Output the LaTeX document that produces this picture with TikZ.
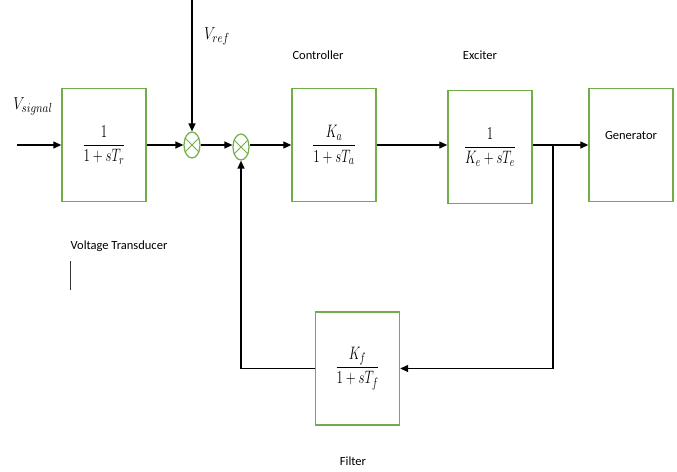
\documentclass[tikz,border=0pt]{standalone}
\usepackage{fontspec}
\usepackage{graphicx}
\setmainfont{Carlito}
\usetikzlibrary{arrows.meta,shapes.geometric}
\definecolor{boxgreen}{RGB}{112,173,71}
\newcommand{\tfrac}[2]{\scalebox{0.9}[1.25]{$\displaystyle\frac{#1}{#2}$}}
\tikzset{
  blk/.style={draw=boxgreen, line width=1.4pt, minimum width=84pt, minimum height=113pt, inner sep=0pt, font=\fontsize{15}{18}\selectfont},
  sumj/.style={draw=boxgreen, line width=1.2pt, ellipse, minimum width=16pt, minimum height=26pt, inner sep=0pt},
  arr/.style={line width=1.3pt, -{Triangle[length=8pt,width=7pt]}},
  lbl/.style={font=\fontsize{12.5}{15}\selectfont, inner sep=0pt},
  mlbl/.style={font=\fontsize{15}{18}\selectfont, inner sep=0pt}
}
\begin{document}
\begin{tikzpicture}[x=1pt,y=-1pt]
\useasboundingbox (0,0) rectangle (677,471);
% blocks
\node[blk] (trans) at (104,145) {\tfrac{1}{1+sT_r}};
\node[blk] (ctrl) at (334,145) {\tfrac{K_a}{1+sT_a}};
\node[blk] (exc) at (490,147) {\tfrac{1}{K_e+sT_e}};
\node[blk] (gen) at (631,145) {};
\node[lbl, yshift=10pt] (gentext) at (gen.center) {Generator};
\node[blk] (filt) at (357.5,368.5) {\tfrac{K_f}{1+sT_f}};
% summing junctions
\node[sumj] (j1) at (192,145) {};
\node[sumj] (j2) at (241,147) {};
\draw[boxgreen, line width=1pt] (j1.45) -- (j1.225) (j1.135) -- (j1.315);
\draw[boxgreen, line width=1pt] (j2.45) -- (j2.225) (j2.135) -- (j2.315);
% labels
\node[mlbl] (vsig) at (33,106) {\scalebox{1}[1.2]{$V_{signal}$}};
\node[mlbl] (vref) at (217,36) {\scalebox{1}[1.2]{$V_{ref}$}};
\node[lbl] (lctrl) at (318,55) {Controller};
\node[lbl] (lexc) at (480,55) {Exciter};
\node[lbl] (ltrans) at (119,246) {Voltage Transducer};
\node[lbl] (lfilt) at (353,461) {Filter};
% coordinates
\coordinate (in) at (17,145);
\coordinate (reftop) at (192,0);
\coordinate (branch) at (553,145);
% connectors
\draw[arr] (in) -- (trans.west);
\draw[arr] (trans.east) -- (j1.west);
\draw[arr] (reftop) -- (j1.north);
\draw[arr] (j1.east) -- (j1.east -| j2.west);
\draw[arr] (j2.east |- ctrl.west) -- (ctrl.west);
\draw[arr] (ctrl.east) -- (ctrl.east -| exc.west);
\draw[arr] (exc.east |- gen.west) -- (gen.west);
\draw[arr] (branch) |- (filt.east);
\draw[arr] (filt.west) -| (j2.south);
% cursor mark
\draw[line width=0.8pt, black!80] (70,261) -- (70,290);
\end{tikzpicture}
\end{document}
